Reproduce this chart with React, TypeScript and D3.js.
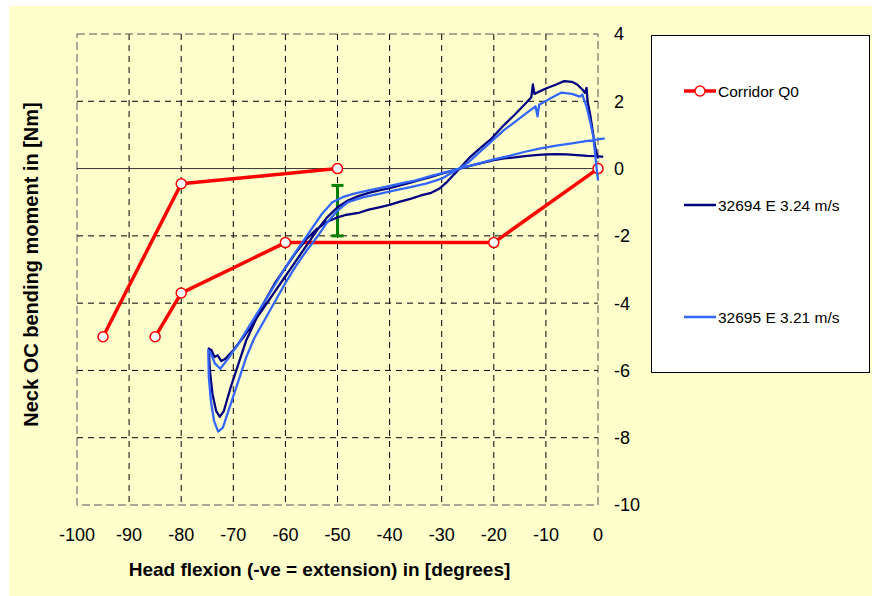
import React from "react";
import * as d3 from "d3";

type Pt = [number, number];

// axis ticks
const xTicks = [-100, -90, -80, -70, -60, -50, -40, -30, -20, -10, 0];
const yTicks = [4, 2, 0, -2, -4, -6, -8, -10];

// corridor Q0 (two branches)
const corridorUpper: Pt[] = [[-95, -5], [-80, -0.45], [-50, 0]];
const corridorLower: Pt[] = [[-85, -5], [-80, -3.7], [-60, -2.2], [-20, -2.2], [0, 0]];

// green error bar at -50 deg
const errX = -50;
const errLow = -2.0;
const errHigh = -0.5;

// 32694 E 3.24 m/s
const s32694: Pt[] = [
  [1.0, 0.35], [0, 0.37], [-2, 0.38], [-4, 0.4], [-6, 0.42], [-8, 0.43], [-10, 0.42], [-12, 0.4],
  [-14, 0.37], [-16, 0.33], [-18, 0.3], [-20, 0.25], [-22, 0.18], [-24, 0.1], [-26, 0.02],
  [-28, -0.07], [-30, -0.15], [-32, -0.25], [-34, -0.33], [-36, -0.42], [-38, -0.5], [-40, -0.58],
  [-42, -0.65], [-44, -0.72], [-46, -0.82], [-48, -0.95], [-50, -1.15], [-52, -1.45], [-54, -1.85],
  [-56, -2.3], [-58, -2.75], [-60, -3.2], [-62, -3.65], [-64, -4.1], [-66, -4.55], [-68, -5.0],
  [-70, -5.4], [-71.5, -5.65], [-72.3, -5.72], [-73, -5.55], [-73.6, -5.6], [-74.2, -5.4], [-74.7, -5.35],
  [-74.5, -6.0], [-74, -6.7], [-73.3, -7.2], [-72.6, -7.38], [-71.8, -7.2], [-70.5, -6.5], [-69, -5.8],
  [-67.5, -5.1], [-66, -4.6], [-64, -3.95], [-62, -3.4], [-60, -2.95], [-58, -2.5], [-56, -2.1],
  [-54, -1.8], [-52, -1.58], [-50, -1.45], [-48.5, -1.38], [-46, -1.32], [-44, -1.22], [-42, -1.15],
  [-40, -1.08], [-38, -0.98], [-36, -0.9], [-34, -0.8], [-32, -0.72], [-30.5, -0.6], [-29, -0.4],
  [-27.5, -0.15], [-26, 0.1], [-24.5, 0.35], [-22.5, 0.62], [-20.7, 0.85], [-18, 1.3], [-16, 1.6],
  [-14, 1.92], [-12.8, 2.12], [-12.5, 2.5], [-12.2, 2.22], [-10, 2.38], [-8, 2.5], [-6.5, 2.6],
  [-5, 2.58], [-4, 2.5], [-3, 2.35], [-2.5, 2.25], [-2.2, 2.4], [-2, 2.0], [-1.5, 1.6], [-1, 1.1],
  [-0.5, 0.6], [0, 0.3],
];

// 32695 E 3.21 m/s
const s32695: Pt[] = [
  [1.3, 0.9], [-2, 0.82], [-5, 0.75], [-8, 0.68], [-11, 0.6], [-14, 0.5], [-17, 0.38], [-20, 0.27],
  [-23, 0.15], [-26, 0.03], [-29, -0.1], [-32, -0.22], [-35, -0.35], [-38, -0.45], [-41, -0.55],
  [-44, -0.65], [-47, -0.75], [-49, -0.85], [-51, -1.0], [-53, -1.35], [-55, -1.8], [-57, -2.25],
  [-59, -2.7], [-61, -3.2], [-63, -3.7], [-65, -4.2], [-67, -4.7], [-69, -5.2], [-71, -5.65],
  [-72.5, -5.95], [-73.5, -5.8], [-74.3, -5.5], [-74.8, -5.4],
  [-74.7, -6.2], [-74.3, -6.9], [-73.7, -7.5], [-72.9, -7.82], [-72, -7.7], [-70.5, -7.0],
  [-69, -6.3], [-67.5, -5.6], [-66, -5.05], [-64, -4.5], [-62, -3.95], [-60, -3.4], [-58, -2.9],
  [-56, -2.45], [-54, -2.05], [-52, -1.6], [-50, -1.25], [-48, -1.0], [-45, -0.85], [-42, -0.75],
  [-39, -0.65], [-36, -0.55], [-33, -0.45], [-30, -0.3], [-28, -0.12], [-26.5, 0.02], [-25, 0.17],
  [-23, 0.45], [-20.7, 0.77], [-18, 1.15], [-16, 1.38], [-14, 1.62], [-12, 1.85], [-11.6, 1.55],
  [-11.3, 1.9], [-9, 2.1], [-7, 2.26], [-5, 2.22], [-3.5, 2.14], [-3, 2.2], [-2.2, 1.84],
  [-1.5, 1.4], [-0.9, 0.95], [-0.3, 0.06], [0, -0.35],
];

const legendLabels = ["Corridor Q0", "32694 E 3.24 m/s", "32695 E 3.21 m/s"];
const colors = ["#ff0000", "#000080", "#3366ff"];

const font = "'Liberation Sans', Arial, sans-serif";

export default function App() {
  const x = d3.scaleLinear().domain([-100, 0]).range([77, 598]);
  const y = d3.scaleLinear().domain([-10, 4]).range([505, 34]);
  const line = d3.line<Pt>().x(d => x(d[0])).y(d => y(d[1]));

  const x0 = x(-100), x1 = x(0), yTop = y(4), yBot = y(-10);
  const legendY = [91, 205, 317];

  return (
    <svg width={872} height={596} style={{ position: "absolute", left: 0, top: 0 }} fontFamily={font}>
      <rect x={9} y={6} width={863} height={590} fill="#ffffcc" />

      {/* grid */}
      {xTicks.slice(1, -1).map(t => (
        <line key={"vx" + t} x1={x(t)} x2={x(t)} y1={yTop} y2={yBot} stroke="#000" strokeDasharray="6,5" />
      ))}
      {yTicks.filter(t => t !== 4 && t !== -10 && t !== 0).map(t => (
        <line key={"hy" + t} x1={x0} x2={x1} y1={y(t)} y2={y(t)} stroke="#000" strokeDasharray="6,5" />
      ))}
      <rect x={x0} y={yTop} width={x1 - x0} height={yBot - yTop} fill="none" stroke="#555" strokeDasharray="8,4" />
      <line x1={x0} x2={x1} y1={y(0)} y2={y(0)} stroke="#333" strokeWidth={1} />

      {/* error bar */}
      <g stroke="#008000" strokeWidth={3}>
        <line x1={x(errX)} x2={x(errX)} y1={y(errHigh)} y2={y(errLow)} />
        <line x1={x(errX) - 6} x2={x(errX) + 6} y1={y(errHigh)} y2={y(errHigh)} />
        <line x1={x(errX) - 6} x2={x(errX) + 6} y1={y(errLow)} y2={y(errLow)} />
      </g>

      {/* corridor */}
      {[corridorUpper, corridorLower].map((c, i) => (
        <g key={"c" + i}>
          <path d={line(c) || ""} fill="none" stroke={colors[0]} strokeWidth={3.5} strokeLinejoin="round" />
          {c.map((p, j) => (
            <circle key={j} cx={x(p[0])} cy={y(p[1])} r={5} fill="#fff" stroke={colors[0]} strokeWidth={1.5} />
          ))}
        </g>
      ))}

      {/* test curves */}
      <path d={line(s32694) || ""} fill="none" stroke={colors[1]} strokeWidth={2.3} strokeLinejoin="round" />
      <path d={line(s32695) || ""} fill="none" stroke={colors[2]} strokeWidth={2.3} strokeLinejoin="round" />

      {/* axis labels */}
      {xTicks.map(t => (
        <text key={"xt" + t} x={x(t)} y={541} textAnchor="middle" fontSize={18}>{t}</text>
      ))}
      {yTicks.map(t => (
        <text key={"yt" + t} x={614} y={y(t) + 6.4} textAnchor="start" fontSize={18}>{t}</text>
      ))}
      <text x={319.5} y={576} textAnchor="middle" fontSize={19} fontWeight="bold">
        Head flexion (-ve = extension) in [degrees]
      </text>
      <text transform="translate(38,264.5) rotate(-90)" textAnchor="middle" fontSize={20} fontWeight="bold">
        Neck OC bending moment in [Nm]
      </text>

      {/* legend */}
      <rect x={651.5} y={35.5} width={218} height={337} fill="#fff" stroke="#000" strokeWidth={1} />
      {legendLabels.map((lab, i) => (
        <g key={lab}>
          <line x1={684} x2={716} y1={legendY[i]} y2={legendY[i]} stroke={colors[i]} strokeWidth={i === 0 ? 3.5 : 2.5} />
          {i === 0 && <circle cx={700} cy={legendY[i]} r={5} fill="#fff" stroke={colors[0]} strokeWidth={1.5} />}
          <text x={718} y={legendY[i] + 5.5} fontSize={15.5}>{lab}</text>
        </g>
      ))}
    </svg>
  );
}
